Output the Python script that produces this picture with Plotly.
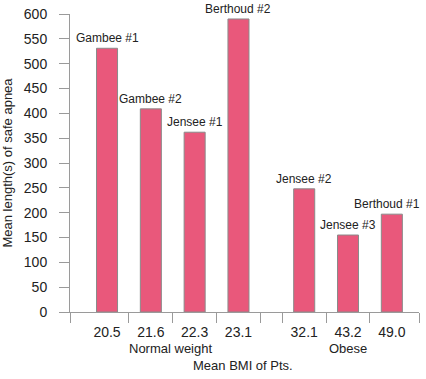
import plotly.graph_objects as go

studies = ["Gambee #1", "Gambee #2", "Jensee #1", "Berthoud #2", "Jensee #2", "Jensee #3", "Berthoud #1"]
bmi_labels = ["20.5", "21.6", "22.3", "23.1", "32.1", "43.2", "49.0"]
apnea_s = [531, 409, 362, 590, 248, 155, 197]
groups = ["Normal weight", "Obese"]

# slot positions (a 1.5-slot gap separates the two groups)
xpos = [0, 1, 2, 3, 4.5, 5.5, 6.5]
x_range = [-0.845, 7.12]
boundaries = [x_range[0], 0.5, 1.5, 2.5, 3.5, 4.0, 5.0, 6.0, x_range[1]]

font = "Liberation Sans, Arial, sans-serif"
txt = "#222222"
axc = "#9a9a9a"

fig = go.Figure(go.Bar(
    x=xpos, y=apnea_s, width=0.48,
    marker=dict(color="#e9587b", line=dict(color="#8a8a8a", width=1)),
    hoverinfo="skip",
))

bar_notes = []
for i, (xv, yv, name) in enumerate(zip(xpos, apnea_s, studies)):
    bar_notes.append(dict(
        x=xv, y=yv, xref="x", yref="y", text=name, showarrow=False,
        yanchor="middle", yshift=10, xshift=(-5 if i == len(studies) - 1 else 0),
        font=dict(size=12, color=txt),
    ))

fig.update_layout(
    width=426, height=379,
    margin=dict(l=70, r=7, t=14, b=67),
    plot_bgcolor="white", paper_bgcolor="white",
    showlegend=False,
    font=dict(family=font, size=13, color=txt),
    xaxis=dict(
        range=x_range, tickvals=xpos, ticktext=bmi_labels,
        ticks="", showgrid=False, zeroline=False,
        showline=True, linecolor=axc, linewidth=1,
        tickfont=dict(size=14, color=txt), ticklabelstandoff=7,
        minor=dict(tickvals=boundaries, ticks="outside", ticklen=10, tickcolor=axc, showgrid=False),
    ),
    yaxis=dict(
        range=[0, 600], dtick=50, ticks="outside", ticklen=10, tickcolor=axc,
        showgrid=False, zeroline=False, showline=True, linecolor=axc, linewidth=1,
        tickfont=dict(size=14, color=txt), ticklabelstandoff=9,
        title=dict(text="Mean length(s) of safe apnea", font=dict(size=13, color=txt), standoff=8),
    ),
    annotations=bar_notes + [
        dict(x=sum(xpos[:4]) / 4 - 0.06, y=0, xref="x", yref="paper", yanchor="middle", yshift=-36,
             text=groups[0], showarrow=False, font=dict(size=13, color=txt)),
        dict(x=sum(xpos[4:]) / 3, y=0, xref="x", yref="paper", yanchor="middle", yshift=-36,
             text=groups[1], showarrow=False, font=dict(size=13, color=txt)),
        dict(x=0.5, xref="paper", y=0, yref="paper", yanchor="middle", yshift=-53, xshift=-2,
             text="Mean BMI of Pts.", showarrow=False, font=dict(size=13, color=txt)),
    ],
)

# remove the browser's default 8px body margin so the figure sits at the window corner
fig.write_html("out.html", config={"displayModeBar": False},
               post_script="document.body.style.margin='0';")
